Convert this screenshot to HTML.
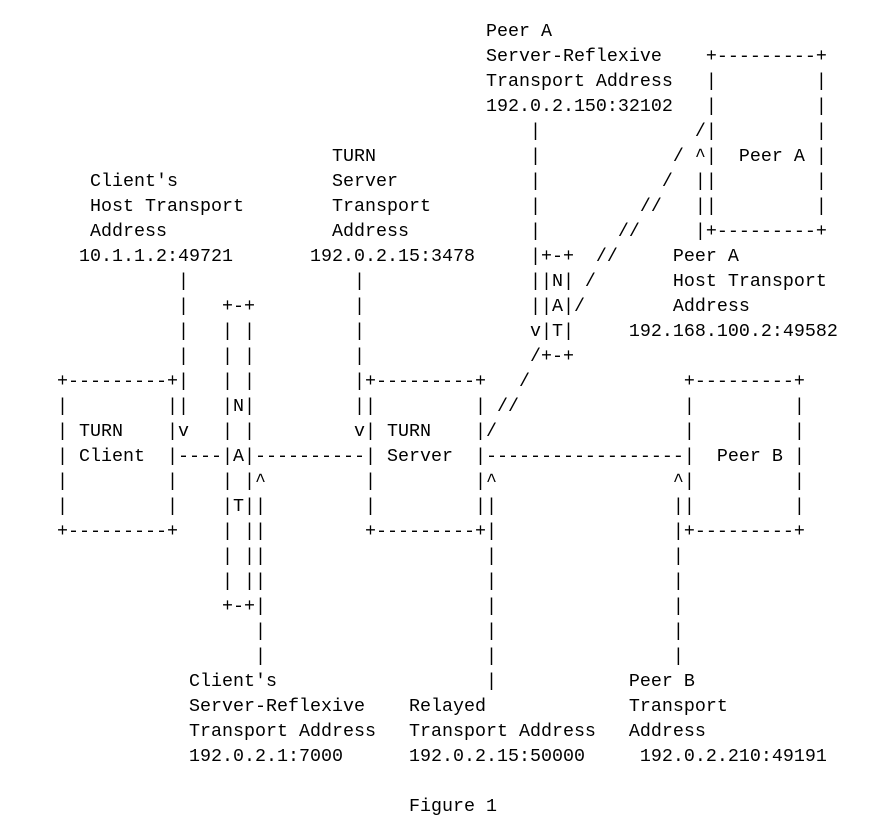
<!DOCTYPE html>
<html><head><meta charset="utf-8"><style>
html,body{margin:0;padding:0;background:#fff;width:886px;height:821px;overflow:hidden}
pre{position:absolute;left:57px;top:19px;margin:0;font-family:"Liberation Mono",monospace;font-size:18.33px;line-height:25px;color:#000}
</style></head><body><pre>                                       Peer A
                                       Server-Reflexive    +---------+
                                       Transport Address   |         |
                                       192.0.2.150:32102   |         |
                                           |              /|         |
                         TURN              |            / ^|  Peer A |
   Client's              Server            |           /  ||         |
   Host Transport        Transport         |         //   ||         |
   Address               Address           |       //     |+---------+
  10.1.1.2:49721       192.0.2.15:3478     |+-+  //     Peer A
           |               |               ||N| /       Host Transport
           |   +-+         |               ||A|/        Address
           |   | |         |               v|T|     192.168.100.2:49582
           |   | |         |               /+-+
+---------+|   | |         |+---------+   /              +---------+
|         ||   |N|         ||         | //               |         |
| TURN    |v   | |         v| TURN    |/                 |         |
| Client  |----|A|----------| Server  |------------------|  Peer B |
|         |    | |^         |         |^                ^|         |
|         |    |T||         |         ||                ||         |
+---------+    | ||         +---------+|                |+---------+
               | ||                    |                |
               | ||                    |                |
               +-+|                    |                |
                  |                    |                |
                  |                    |                |
            Client's                   |            Peer B
            Server-Reflexive    Relayed             Transport
            Transport Address   Transport Address   Address
            192.0.2.1:7000      192.0.2.15:50000     192.0.2.210:49191

                                Figure 1</pre></body></html>
